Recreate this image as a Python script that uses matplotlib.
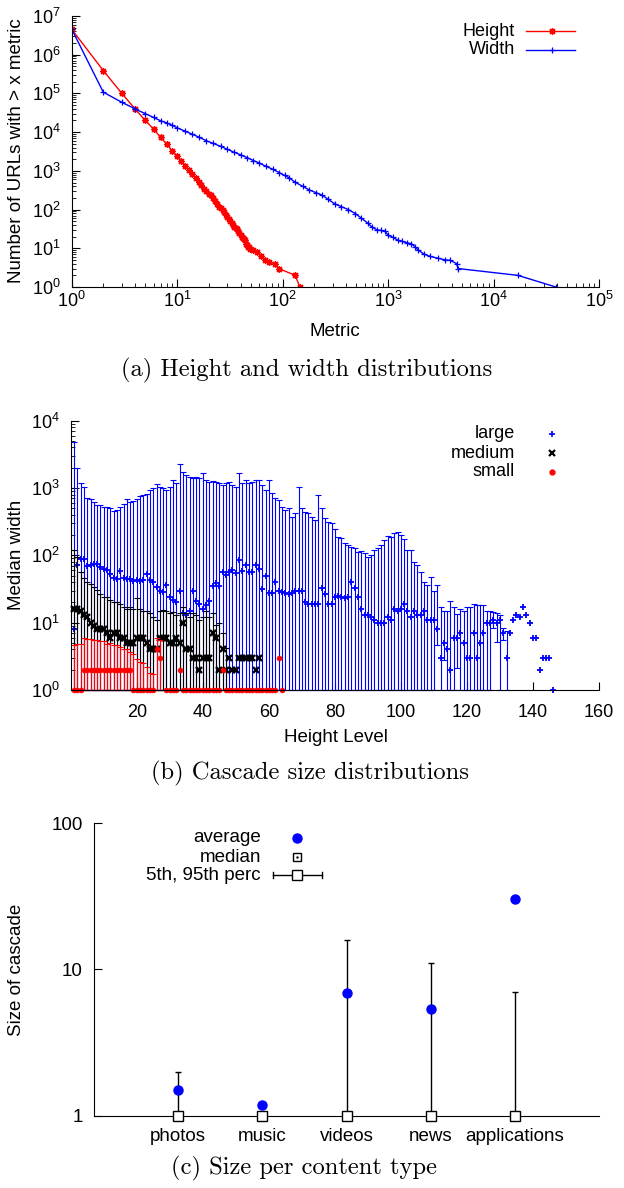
import numpy as np
import matplotlib
matplotlib.use('Agg')
import matplotlib.pyplot as plt
from matplotlib.ticker import LogLocator, NullLocator, NullFormatter, FixedLocator

plt.rcParams['font.family'] = ['Liberation Sans', 'DejaVu Sans']
plt.rcParams['mathtext.fontset'] = 'custom'
plt.rcParams['mathtext.rm'] = 'Liberation Sans'
plt.rcParams['mathtext.it'] = 'Liberation Sans:italic'
plt.rcParams['font.size'] = 13.5
plt.rcParams['xtick.labelsize'] = 13
plt.rcParams['ytick.labelsize'] = 13

nan = np.nan

# ---- (a) height / width distributions (CCDF)
height_x = [1, 2, 3, 4, 5, 6, 7, 8, 9, 10, 11, 12, 13, 14, 15, 16, 17, 18, 19, 20,
            21, 22, 23, 24, 25, 26, 27, 28, 29, 30, 31, 32, 33, 34, 35, 36, 37, 38, 39, 40,
            41, 42, 43, 44, 45, 46, 47, 48, 49, 52, 57, 62, 68, 75, 84, 92, 132, 146]
height_y = [4.6e6, 3.9e5, 1.0e5, 4.0e4, 2.0e4, 1.2e4, 7.3e3, 4.9e3, 3.3e3, 2.4e3,
            1.8e3, 1.35e3, 1.05e3, 810, 640, 520, 420, 350, 300, 260,
            235, 195, 165, 140, 120, 108, 96, 87, 74, 64, 56, 50, 44, 40, 36, 34, 32, 28, 25, 22,
            20, 18, 17, 16, 13, 12, 11, 10.5, 9.8, 9, 8, 6.5, 4.9, 4.5, 4, 3, 2, 1]

width_x = [1, 2, 3, 4, 5, 6, 7, 8, 9, 10, 12, 14, 16, 19, 22, 26, 30, 35, 40, 46,
           53, 60, 70, 81, 93, 105, 116, 130, 155, 180, 210, 238, 270, 316, 360, 420,
           490, 560, 640, 700, 780, 850, 930, 1000, 1120, 1250, 1370, 1500, 1670, 1800,
           1940, 2200, 2500, 3000, 3500, 3870, 4480, 4600, 17000, 39000]
width_y = [4.7e6, 1.08e5, 5.9e4, 4.0e4, 3.0e4, 2.4e4, 1.96e4, 1.74e4, 1.5e4, 1.3e4,
           1.05e4, 8.8e3, 7.5e3, 6.0e3, 5.1e3, 4.3e3, 3.6e3, 3.0e3, 2.6e3, 2.2e3,
           1.85e3, 1.6e3, 1.3e3, 1.1e3, 900, 760, 660, 520, 400, 320, 270, 235, 185, 138,
           120, 100, 79, 60, 45, 36, 30, 29, 28, 22, 19, 16, 15, 14, 13, 11,
           9, 7, 6.2, 5.5, 5, 4.9, 4, 3, 2, 1]

# ---- (b) median width per height level
large_lvl = list(range(1, 147))
large_med = [8, 72, 89, 88, 70, 72, 75, 75, 68, 62,
             60, 52, 46, 44, 58, 46, 45, 44, 42, 43,
             42, 43, 52, 43, 40, 34, 30, 29, 36, 24,
             22, 20, 30, 14, 13, 15, 30, 21, 19, 16,
             18, 21, 35, 39, 35, 57, 51, 57, 61, 54,
             85, 59, 73, 56, 56, 73, 62, 32, 50, 28,
             28, 40, 30, 29, 28, 27, 28, 30, 30, 30,
             20, 19, 19, 19, 19, 33, 27, 19, 19, 24,
             25, 24, 23, 24, 40, 33, 24, 16, 13, 13,
             12, 11, 10, 10, 10, 12, 11, 16, 15, 16,
             19, 15, 12, 15, 13, 13, 15, 11, 11, 11,
             8, 3, 5, 4, 2, 6, 6, 7, 5, 3,
             3, 7, 3, 5, 7, 10, 10, 11, 10, 11,
             7, 3, 7, 11, 13, 12, 17, 13, 10, 6,
             6, 2, 3, 3, 3, 1]
large_hi = [4800, 1950, 1200, 1050, 720, 690, 630, 560, 560, 530,
            520, 500, 460, 470, 530, 580, 680, 630, 650, 680,
            750, 790, 820, 930, 1000, 1150, 1050, 1000, 930, 1050,
            1300, 1170, 2300, 1750, 1550, 1480, 1400, 1450, 1400, 1700,
            1300, 1240, 1280, 1240, 1170, 1100, 1200, 1240, 1100, 1050,
            1700, 1170, 1330, 1170, 1240, 1300, 1330, 1100, 930, 1330,
            830, 700, 670, 530, 470, 500, 375, 420, 1020, 500,
            445, 420, 370, 335, 790, 510, 355, 315, 300, 250,
            190, 180, 150, 143, 135, 127, 113, 115, 110, 95,
            100, 120, 127, 143, 170, 195, 185, 218, 225, 200,
            173, 122, 120, 80, 72, 57, 40, 36, 47, 30,
            36, 17, 15, 15, 21, 17, 13.5, 16, 15, 17,
            17, 19, 18, 18, 18, 15, 15, 14.5, 14, 13,
            8.3, 7.4] + [nan] * 14
large_lo_raised = {111: 4.7, 113: 2.8, 117: 2.1, 128: 8.3, 129: 5.1, 131: 5.5}

medium_lvl = list(range(1, 58))
medium_med = [16, 16, 15, 13, 12, 10, 9, 8, 8, 8,
              7, 6, 7, 7, 6, 6, 5, 5, 5, 6,
              6, 6, 5, 4, 4, 4, 6, 6, 6, 5,
              5, 6, 5, 10, 4, 4, 3, 3, 2, 3,
              3, 3, 7, 6, 2, 4, 2, 3, 2, 2,
              3, 3, 3, 3, 3, 2, 3]
medium_hi = [120, 95, 56, 46, 40, 38, 34, 31, 27, 24,
             24, 22, 20, 20, 19, 17, 16, 17, 16, 23,
             16, 15, 15, 14, 12, 11, 15, 15.6, 15, 14,
             14.5, 13, 14, 17, 14, 12, 14, 13, 11, 12,
             15, 12, 14, 9.2, 9.8, 7, 4.2] + [nan] * 10

small_lvl = list(range(1, 65))
small_med = ([1, 1, 1] + [2] * 15 + [1] * 7 + [4, 3, nan] + [1] * 4 + [2]
             + [1] * 12 + [2] + [1] * 16 + [3, 1])
small_hi = [4.7, 4.9, 4.8, 5.9, 5.8, 5.8, 5.6, 5.6, 5.3, 5.3,
            4.9, 5.0, 4.6, 4.6, 4.4, 4.1, 4.1, 3.7, 3.4, 2.9,
            2.6, 2.5, 2.2, 1.8, 1.7, 6.0, 5.6] + [nan] * 37

# ---- (c) cascade size per content type
cats = ['photos', 'music', 'videos', 'news', 'applications']
avg_size = [1.5, 1.18, 6.9, 5.4, 30.3]
median_size = [1, 1, 1, 1, 1]
p5_size = [1, 1, 1, 1, 1]
p95_size = [2.0, 1.0, 15.9, 11.0, 7.0]

W, H = 624, 1188
fig = plt.figure(figsize=(W / 100, H / 100), dpi=100)


def box(l, t, r, b):
    return fig.add_axes([l / W, 1 - b / H, (r - l) / W, (b - t) / H])


def style(ax):
    for s in ['top', 'right']:
        ax.spines[s].set_visible(False)
    ax.tick_params(which='both', direction='in', top=False, right=False)
    ax.tick_params(which='major', length=6)
    ax.tick_params(which='minor', length=3)


# panel a
ax1 = box(71.5, 16, 599, 287)
style(ax1)
ax1.plot(height_x, height_y, color='#ff0000', lw=1, marker=(8, 2, 0), ms=5, mew=0.9)
ax1.plot(width_x, width_y, color='#0000ff', lw=1, marker='+', ms=5, mew=0.9)
ax1.set_xscale('log')
ax1.set_yscale('log')
ax1.set_xlim(1, 1e5)
ax1.set_ylim(1, 1e7)
ax1.xaxis.set_major_locator(LogLocator(base=10, numticks=10))
ax1.yaxis.set_major_locator(LogLocator(base=10, numticks=10))
ax1.xaxis.set_minor_locator(LogLocator(base=10, subs=np.arange(2, 10), numticks=20))
ax1.yaxis.set_minor_locator(LogLocator(base=10, subs=np.arange(2, 10), numticks=20))
ax1.xaxis.set_minor_formatter(NullFormatter())
ax1.yaxis.set_minor_formatter(NullFormatter())
ax1.tick_params(axis='x', pad=3)
ax1.tick_params(axis='y', pad=8)

# panel b
ax2 = box(70.7, 420.7, 599, 690)
style(ax2)


def cascade(lvl, med, hi, color, marker, ms, mew, lo_raised=None):
    lvl = np.array(lvl, float)
    med = np.array(med, float)
    hi = np.array(hi, float)
    lo = np.ones_like(med)
    if lo_raised:
        for k, v in lo_raised.items():
            lo[k - 1] = v
    bar = ~np.isnan(hi) & ~np.isnan(med)
    ax2.errorbar(lvl[bar], med[bar], yerr=[med[bar] - lo[bar], hi[bar] - med[bar]],
                 fmt='none', ecolor=color, elinewidth=0.8, capsize=2, capthick=0.8,
                 clip_on=False)
    ok = ~np.isnan(med)
    ax2.plot(lvl[ok], med[ok], ls='none', marker=marker, color=color, ms=ms, mew=mew,
             clip_on=False)


cascade(large_lvl, large_med, large_hi, '#0000ff', '+', 5, 1.3, large_lo_raised)
cascade(medium_lvl, medium_med, medium_hi, 'black', 'x', 4, 1.7)
cascade(small_lvl, small_med, small_hi, '#ff0000', 'o', 3.5, 0.5)
ax2.set_yscale('log')
ax2.set_ylim(1, 1e4)
ax2.set_xlim(0, 160)
ax2.set_xticks([20, 40, 60, 80, 100, 120, 140, 160])
ax2.yaxis.set_major_locator(LogLocator(base=10, numticks=10))
ax2.yaxis.set_minor_locator(LogLocator(base=10, subs=np.arange(2, 10), numticks=20))
ax2.yaxis.set_minor_formatter(NullFormatter())
ax2.tick_params(axis='x', pad=10)
ax2.tick_params(axis='y', pad=8)

# panel c
ax3 = box(94, 823, 599, 1115.7)
style(ax3)
pos = np.arange(1, len(cats) + 1)
med_c = np.array(median_size, float)
ax3.errorbar(pos, med_c, yerr=[med_c - np.array(p5_size), np.array(p95_size) - med_c],
             fmt='s', mfc='white', mec='black', ms=6.5, mew=1, ecolor='black',
             elinewidth=1, capsize=2.5, capthick=1, clip_on=False, zorder=3)
ax3.plot(pos, avg_size, 'o', color='#0000ff', ms=6.5, ls='none', clip_on=False, zorder=4)
ax3.set_yscale('log')
ax3.set_ylim(1, 100)
ax3.set_xlim(0, 6)
ax3.yaxis.set_major_locator(FixedLocator([1, 10, 100]))
ax3.set_yticklabels(['1', '10', '100'])
ax3.yaxis.set_minor_locator(NullLocator())
ax3.set_xticks(pos)
ax3.set_xticklabels(cats, fontsize=13.5)
ax3.tick_params(axis='x', pad=9, length=0)
ax3.tick_params(axis='y', pad=8, labelsize=13.5)

# overlay in pixel coordinates for labels, legends and captions
ov = fig.add_axes([0, 0, 1, 1])
ov.set_xlim(0, W)
ov.set_ylim(H, 0)
ov.axis('off')
ov.patch.set_visible(False)

ov.text(17, 151, 'Number of URLs with > x metric', rotation=90, ha='center', va='center')
ov.text(335, 331, 'Metric', ha='center', va='center')
ov.text(17, 555, 'Median width', rotation=90, ha='center', va='center')
ov.text(336, 738, 'Height Level', ha='center', va='center')
ov.text(17, 970, 'Size of cascade', rotation=90, ha='center', va='center')

# legend a
ov.text(515, 31, 'Height', ha='right', va='center', fontsize=13)
ov.plot([526, 575], [31, 31], color='#ff0000', lw=1)
ov.plot([552], [31], marker=(8, 2, 0), color='#ff0000', ms=5, mew=0.9)
ov.text(515, 50, 'Width', ha='right', va='center', fontsize=13)
ov.plot([526, 575], [50, 50], color='#0000ff', lw=1)
ov.plot([552], [50], marker='+', color='#0000ff', ms=5, mew=0.9)

# legend b
ov.text(515, 434, 'large', ha='right', va='center', fontsize=13)
ov.plot([552], [434], marker='+', color='#0000ff', ms=5, mew=1.2)
ov.text(515, 453, 'medium', ha='right', va='center', fontsize=13)
ov.plot([552], [453], marker='x', color='black', ms=4, mew=1.6)
ov.text(515, 472, 'small', ha='right', va='center', fontsize=13)
ov.plot([552], [472], marker='o', color='#ff0000', ms=3.5)

# legend c
ov.text(261, 838, 'average', ha='right', va='center')
ov.plot([297], [838], 'o', color='#0000ff', ms=6.5)
ov.text(261, 857, 'median', ha='right', va='center')
ov.plot([297], [857], 's', mfc='white', mec='black', ms=6, mew=1)
ov.plot([297], [857], '.', color='black', ms=1.5)
ov.text(261, 875, '5th, 95th perc', ha='right', va='center')
ov.plot([273, 322], [875, 875], color='black', lw=1)
ov.plot([273, 273], [872, 878], color='black', lw=1)
ov.plot([322, 322], [872, 878], color='black', lw=1)
ov.plot([297], [875], 's', mfc='white', mec='black', ms=6.5, mew=1)

# captions
cap = dict(ha='center', va='center', family='cmr10', fontsize=17.7)
ov.text(307, 370, '(a) Height and width distributions', **cap)
ov.text(310, 773, '(b) Cascade size distributions', **cap)
ov.text(304, 1168, '(c) Size per content type', **cap)

fig.savefig('out.png', dpi=100)
